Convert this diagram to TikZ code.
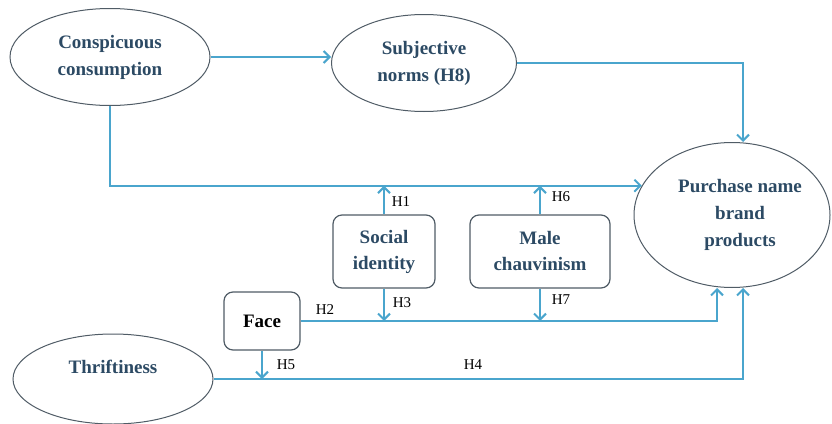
\documentclass[tikz,border=0pt]{standalone}
\usepackage{fontspec}
\setmainfont{Liberation Serif}
\usetikzlibrary{arrows.meta,shapes.geometric,calc}
\definecolor{flow}{HTML}{4AA5CD}
\definecolor{rim}{HTML}{505C66}
\definecolor{ink}{HTML}{2C4A64}

\begin{document}
\begin{tikzpicture}[x=1pt,y=-1pt,
  construct/.style={ellipse, draw=rim, line width=1pt, fill=white, inner sep=0pt,
    font=\fontsize{19}{27}\selectfont\bfseries, text=ink, align=center},
  factor/.style={draw=rim, line width=1.2pt, rounded corners=9pt, fill=white, inner sep=0pt,
    font=\fontsize{19}{26}\selectfont\bfseries, text=ink, align=center},
  link/.style={draw=flow, line width=2pt, -{Straight Barb[length=6pt,width=12pt]}},
  hyp/.style={font=\fontsize{15}{17}\selectfont, text=black, inner sep=0pt}
]
\useasboundingbox (0,0) rectangle (832,423);

% constructs
\node[construct, minimum width=200pt, minimum height=97pt] (cons) at (110,57)
  {Conspicuous\\consumption};
\node[construct, minimum width=185pt, minimum height=97pt] (subj) at (424,63)
  {Subjective\\norms (H8)};
\node[construct, minimum width=196pt, minimum height=145pt,
  label={[font=\fontsize{19}{27}\selectfont\bfseries, text=ink, align=center, xshift=8pt]center:Purchase name\\brand\\products}]
  (purch) at (732,215) {};
\node[construct, minimum width=200pt, minimum height=90pt,
  label={[font=\fontsize{19}{27}\selectfont\bfseries, text=ink, yshift=12pt]center:Thriftiness}]
  (thrift) at (113,379) {};

% moderating factors
\node[factor, minimum width=102pt, minimum height=73pt] (social) at (384,251.5) {Social\\identity};
\node[factor, minimum width=140pt, minimum height=73pt] (male) at (540,251.5) {Male\\chauvinism};
\node[factor, minimum width=76pt, minimum height=58pt, text=black] (face) at (262,321) {Face};

% main paths
\draw[link] (cons.east) -- (cons.east -| subj.west);
\draw[link] (subj.east) -| ($(purch.north)+(11,0)$);
\draw[link] (cons.south) |- (purch.162);
\draw[link] (face.east) -| ($(purch.south)+(-15,0)$);
\draw[link] (thrift.east) -| ($(purch.south)+(11,0)$);

% moderation arrows
\draw[link] (social.north) -- (social.north |- purch.162);
\draw[link] (male.north) -- (male.north |- purch.162);
\draw[link] (social.south) -- (social.south |- face.east);
\draw[link] (male.south) -- (male.south |- face.east);
\draw[link] (face.south) -- (face.south |- thrift.east);

% hypothesis labels
\node[hyp] (h1) at (401,202) {H1};
\node[hyp] (h6) at (561,197) {H6};
\node[hyp] (h3) at (402,303) {H3};
\node[hyp] (h7) at (561,300) {H7};
\node[hyp] (h2) at (325,310) {H2};
\node[hyp] (h5) at (286,365) {H5};
\node[hyp] (h4) at (473,365) {H4};
\end{tikzpicture}
\end{document}
